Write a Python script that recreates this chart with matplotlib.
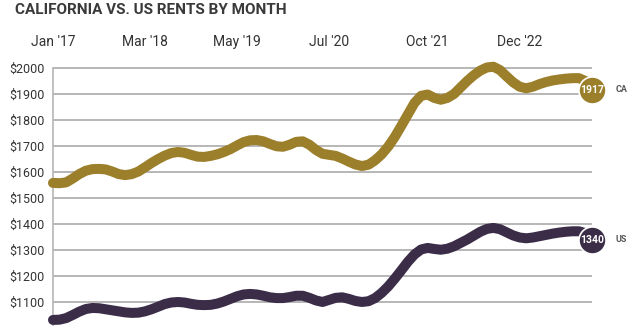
import matplotlib
matplotlib.use("Agg")
import matplotlib.pyplot as plt

# monthly rents, Jan 2017 .. Nov 2023
months = list(range(83))
ca_rent = [1558, 1557, 1560, 1575, 1592, 1605, 1611, 1612, 1610, 1602,
           1592, 1588, 1592, 1602, 1618, 1635, 1650, 1663, 1673, 1677,
           1674, 1666, 1659, 1658, 1662, 1668, 1677, 1688, 1702, 1715,
           1722, 1723, 1718, 1708, 1699, 1697, 1705, 1716, 1718, 1705,
           1685, 1670, 1666, 1662, 1652, 1640, 1629, 1623, 1628, 1645,
           1668, 1698, 1735, 1778, 1822, 1866, 1893, 1898, 1885, 1878,
           1885, 1900, 1925, 1950, 1972, 1990, 2002, 2005, 1992, 1968,
           1945, 1928, 1922, 1928, 1938, 1946, 1952, 1956, 1959, 1961,
           1961, 1950, 1917]
us_rent = [1031, 1032, 1038, 1050, 1063, 1073, 1077, 1076, 1072, 1068,
           1064, 1060, 1058, 1059, 1064, 1072, 1082, 1092, 1098, 1100,
           1098, 1093, 1089, 1088, 1089, 1094, 1102, 1112, 1122, 1129,
           1131, 1129, 1124, 1118, 1115, 1115, 1119, 1124, 1124, 1116,
           1106, 1100, 1108, 1116, 1118, 1112, 1104, 1100, 1103, 1115,
           1135, 1160, 1190, 1222, 1255, 1283, 1302, 1308, 1304, 1301,
           1305, 1314, 1327, 1340, 1355, 1370, 1381, 1385, 1380, 1368,
           1356, 1348, 1345, 1348, 1353, 1358, 1363, 1367, 1370, 1372,
           1372, 1365, 1340]

tick_months = [0, 14, 28, 42, 57, 71]
tick_labels = ["Jan '17", "Mar '18", "May '19", "Jul '20", "Oct '21", "Dec '22"]
y_ticks = [1100, 1200, 1300, 1400, 1500, 1600, 1700, 1800, 1900, 2000]

gold = "#9c7f2a"
plum = "#3b2d48"
plt.rcParams["font.family"] = ["Roboto", "DejaVu Sans"]

fig = plt.figure(figsize=(6.4, 3.35), dpi=100)
ax = fig.add_axes([0.0828, 0.0287, 0.8422, 0.7838])

for v in y_ticks:
    ax.axhline(v, color="#a3a3a3", lw=1.1, zorder=1)

ax.plot(months, ca_rent, color=gold, lw=7.2, solid_capstyle="round",
        solid_joinstyle="round", clip_on=False, zorder=3)
ax.plot(months, us_rent, color=plum, lw=7.2, solid_capstyle="round",
        solid_joinstyle="round", clip_on=False, zorder=3)

# end markers with last value
for vals, col, name in [(ca_rent, gold, "CA"), (us_rent, plum, "US")]:
    ax.plot(months[-1], vals[-1], "o", ms=19.5, color=col, mec="white",
            mew=1.2, clip_on=False, zorder=4)
    ax.text(months[-1], vals[-1], str(vals[-1]), color="white",
            fontsize=7.5, fontweight="bold",
            ha="center", va="center", zorder=5)
    ax.annotate(name, (months[-1], vals[-1]), xytext=(17, 0),
                textcoords="offset points", color="#555555", fontsize=6.5,
                fontweight="bold", ha="left", va="center")

ax.set_xlim(0, 82)
ax.set_ylim(1010, 2020)
ax.set_yticks(y_ticks)
ax.set_yticklabels(["$%d" % v for v in y_ticks])
ax.set_xticks(tick_months)
ax.set_xticklabels(tick_labels)
ax.xaxis.tick_top()
ax.tick_params(axis="x", length=0, pad=10, labelsize=10, labelcolor="#333333")
ax.tick_params(axis="y", length=0, pad=6, labelsize=9, labelcolor="#333333")

for s in ["top", "right", "bottom"]:
    ax.spines[s].set_visible(False)
ax.spines["left"].set_color("#b5b5b5")
ax.spines["left"].set_linewidth(1.2)
ax.spines["left"].set_bounds(1010, 2000)

fig.text(0.023, 0.97, "CALIFORNIA VS. US RENTS BY MONTH", fontsize=11,
         fontweight="bold", color="#3a3a3a", ha="left", va="center")

fig.savefig("out.png", dpi=100)
